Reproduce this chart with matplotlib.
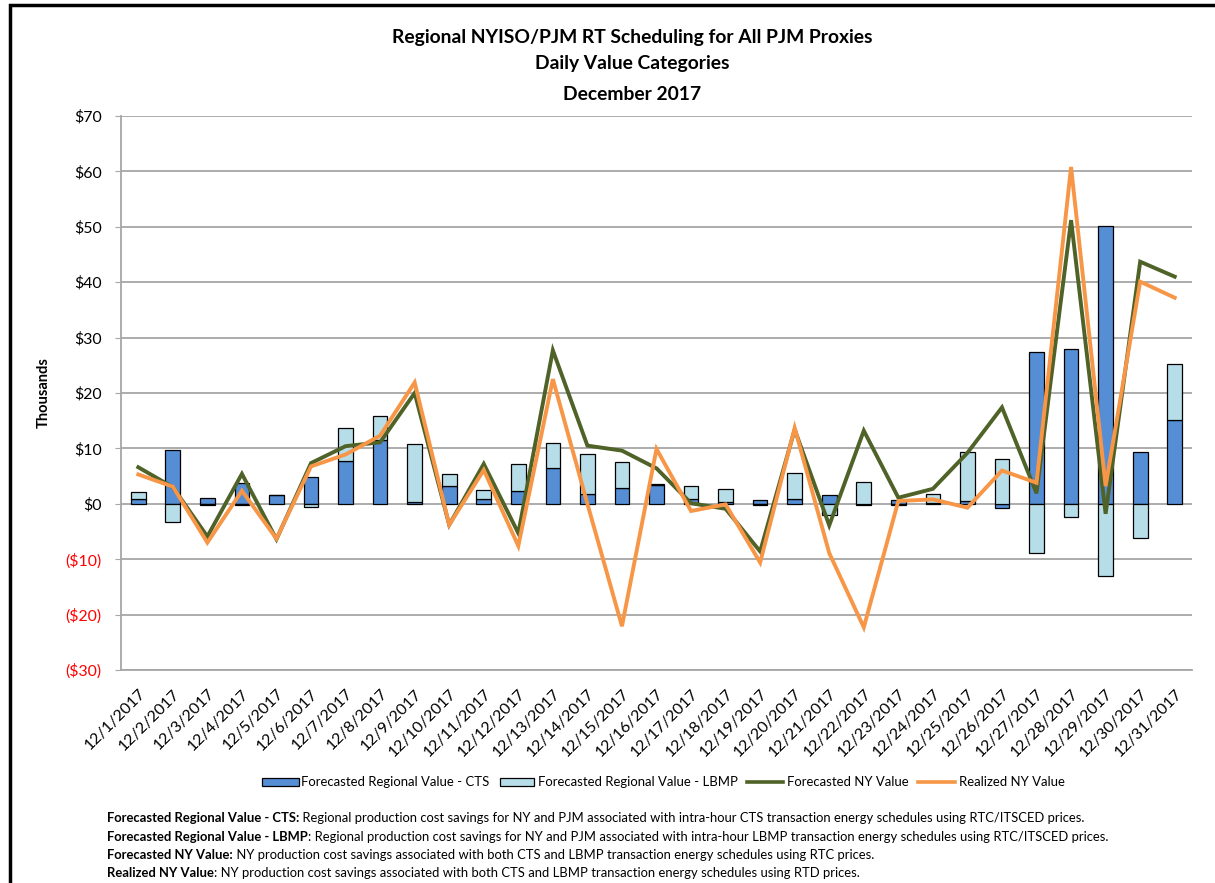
import matplotlib
matplotlib.use("Agg")
import matplotlib.pyplot as plt
import matplotlib.patches as mpatches
from matplotlib.lines import Line2D
from matplotlib.ticker import FuncFormatter
import numpy as np

plt.rcParams['font.family'] = ['Lato', 'DejaVu Sans']

dates = [f"12/{d}/2017" for d in range(1, 32)]

cts = [0.84, 9.8, 1.1, 3.7, 1.57, 4.76, 7.8, 11.6, 0.24, 3.3,
       0.84, 2.3, 6.4, 1.8, 2.8, 3.4, 0.84, 0.36, 0.6, 0.84,
       1.6, -0.3, 0.66, 0.2, 0.5, -0.8, 27.4, 28.0, 50.1, 9.3, 15.1]
lbmp = [1.2, -3.25, -0.3, -0.3, 0.1, -0.6, 5.8, 4.2, 10.5, 2.1,
        1.7, 4.8, 4.6, 7.2, 4.8, 0.1, 2.3, 2.4, -0.3, 4.8,
        -2.1, 4.0, -0.3, 1.6, 8.9, 8.1, -8.9, -2.4, -13.0, -6.2, 10.1]
forecast_ny = [6.6, 3.0, -5.9, 5.4, -6.4, 7.35, 10.4, 11.1, 20.0, -3.8,
               7.2, -5.3, 27.7, 10.5, 9.6, 6.4, 0.1, -0.9, -8.6, 13.4,
               -3.9, 13.2, 1.1, 2.7, 9.2, 17.4, 1.9, 51.2, -1.8, 43.7, 41.0]
realized_ny = [5.3, 3.1, -7.0, 2.35, -6.3, 6.75, 8.9, 12.3, 21.9, -3.8,
               6.1, -7.6, 22.5, 0.0, -22.1, 9.9, -1.3, -0.1, -10.6, 13.7,
               -8.9, -22.3, 0.5, 0.8, -0.7, 6.0, 3.8, 60.8, 3.2, 40.1, 37.2]

titles = ["Regional NYISO/PJM RT Scheduling for All PJM Proxies",
          "Daily Value Categories", "December 2017"]
legend_labels = ["Forecasted Regional Value - CTS", "Forecasted Regional Value - LBMP",
                 "Forecasted NY Value", "Realized NY Value"]
footnotes = [
    ("Forecasted Regional Value - CTS:", " Regional production cost savings for NY and PJM associated with intra-hour CTS transaction energy schedules using RTC/ITSCED prices."),
    ("Forecasted Regional Value - LBMP", ": Regional production cost savings for NY and PJM associated with intra-hour LBMP transaction energy schedules using RTC/ITSCED prices."),
    ("Forecasted NY Value:", " NY production cost savings associated with both CTS and LBMP transaction energy schedules using RTC prices."),
    ("Realized NY Value", ": NY production cost savings associated with both CTS and LBMP transaction energy schedules using RTD prices."),
]

C_CTS = "#558ED5"
C_LBMP = "#B7DEE8"
C_FNY = "#4F6228"
C_RNY = "#F79646"
GRID = "#A6A6A6"

W, H = 1215, 883
fig = plt.figure(figsize=(W / 100, H / 100), dpi=100)
fig.canvas.draw()
renderer = fig.canvas.get_renderer()


def fx(px):
    return px / W


def fy(py):
    return 1 - py / H


def text_w(s, size, weight='normal'):
    t = fig.text(0, 0, s, fontsize=size, fontweight=weight)
    w = t.get_window_extent(renderer=renderer).width
    t.remove()
    return w


def fit(pairs, base=10.0):
    # pairs: list of (list of (string, weight), target width px)
    ratios = []
    for parts, target in pairs:
        w = sum(text_w(s, base, wt) for s, wt in parts)
        ratios.append(target / w)
    return base * float(np.mean(ratios))


ax = fig.add_axes([fx(121), fy(670), (1192 - 121) / W, (670 - 116) / H])

x = np.arange(len(dates))
cts_a = np.array(cts)
lbmp_a = np.array(lbmp)
cts_bottom = np.zeros_like(cts_a)
lbmp_bottom = np.where(lbmp_a >= 0, np.maximum(cts_a, 0), np.minimum(cts_a, 0))

bw = 0.425
ax.bar(x, cts_a, bw, bottom=cts_bottom, color=C_CTS, edgecolor="black", linewidth=0.9, zorder=3)
ax.bar(x, lbmp_a, bw, bottom=lbmp_bottom, color=C_LBMP, edgecolor="black", linewidth=0.9, zorder=3)
ax.plot(x, forecast_ny, color=C_FNY, linewidth=2.8, zorder=4, solid_joinstyle='miter')
ax.plot(x, realized_ny, color=C_RNY, linewidth=2.8, zorder=5, solid_joinstyle='miter')

ax.set_xlim(-0.5, len(dates) - 0.5)
ax.set_ylim(-30, 70)
ax.set_yticks(np.arange(-30, 71, 10))
ax.yaxis.set_major_formatter(FuncFormatter(lambda v, p: f"${int(v)}" if v >= 0 else f"(${int(-v)})"))
ysize = fit([([("($10)", 'normal')], 37.5), ([("$20", 'normal')], 26.5)])
for lbl, v in zip(ax.get_yticklabels(), np.arange(-30, 71, 10)):
    lbl.set_color("#FF0000" if v < 0 else "black")
ax.tick_params(axis='y', labelsize=ysize, length=4, color=GRID, pad=10)
ax.set_xticks(x)
ax.set_xticklabels(dates, rotation=45, ha='right', rotation_mode='anchor', fontsize=11.5)
ax.tick_params(axis='x', length=0, pad=12)

ax.grid(axis='y', color=GRID, linewidth=1.3, zorder=0)
ax.set_axisbelow(True)
for s in ['top', 'right']:
    ax.spines[s].set_visible(False)
for s in ['left', 'bottom']:
    ax.spines[s].set_color(GRID)
    ax.spines[s].set_linewidth(1.3)

fig.text(fx(44), fy(393), "Thousands", rotation=90, fontsize=10.5, fontweight='bold',
         ha='center', va='center')

tsize = fit([([(titles[0], 'bold')], 481)])
for t, yy in zip(titles, [38, 64, 95]):
    fig.text(fx(632), fy(yy), t, fontsize=tsize, fontweight='bold', ha='center', va='center')

# legend, drawn by hand at the reference positions
lsize = fit([([(legend_labels[0], 'normal')], 188), ([(legend_labels[1], 'normal')], 199),
             ([(legend_labels[2], 'normal')], 122), ([(legend_labels[3], 'normal')], 107)])
ly = 782
leg_slots = [(262, 299, 301), (500, 534, 538), (747, 783, 787), (918, 955, 959)]
for i, (x0, x1, tx) in enumerate(leg_slots):
    if i < 2:
        fig.add_artist(mpatches.Rectangle((fx(x0), fy(ly + 4)), (x1 - x0) / W, 8 / H,
                                          transform=fig.transFigure,
                                          facecolor=[C_CTS, C_LBMP][i], edgecolor='black',
                                          linewidth=0.9))
    else:
        fig.add_artist(Line2D([fx(x0), fx(x1)], [fy(ly), fy(ly)], transform=fig.transFigure,
                              color=[C_FNY, C_RNY][i - 2], linewidth=2.6))
    fig.text(fx(tx), fy(ly), legend_labels[i], fontsize=lsize, ha='left', va='center')

fsize = fit([([(footnotes[0][0], 'bold'), (footnotes[0][1], 'normal')], 980),
             ([(footnotes[1][0], 'bold'), (footnotes[1][1], 'normal')], 1004)])
for (b, r), yy in zip(footnotes, [818, 837, 855, 873]):
    tb = fig.text(fx(107), fy(yy), b, fontsize=fsize, fontweight='bold', ha='left', va='center')
    bb = tb.get_window_extent(renderer=renderer)
    fig.text(bb.x1 / W, fy(yy), r, fontsize=fsize, ha='left', va='center')

border = mpatches.Rectangle((fx(10), -0.05), 1.2, 1 - 5 / H + 0.05, transform=fig.transFigure,
                            fill=False, edgecolor='black', linewidth=2.5, clip_on=False)
fig.add_artist(border)

fig.savefig("out.png", dpi=100)
